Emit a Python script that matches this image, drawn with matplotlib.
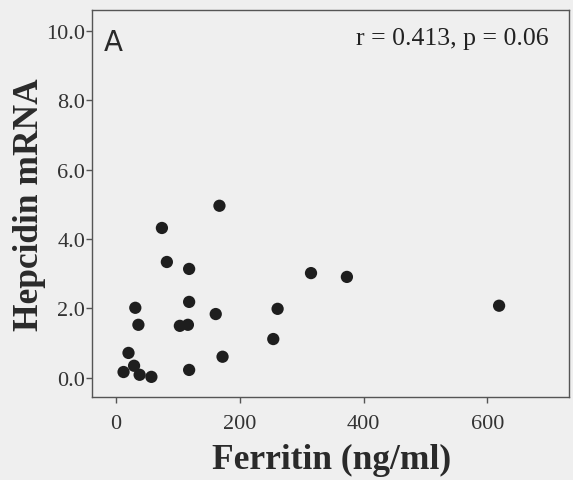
import matplotlib.pyplot as plt

# ferritina (ng/ml) x mRNA de hepcidina
ferritina = [74, 167, 82, 118, 31, 118, 161, 261, 36, 103, 116, 254,
             20, 172, 12, 29, 38, 57, 118, 315, 373, 619]
hepcidina = [4.32, 4.96, 3.34, 3.14, 2.02, 2.19, 1.84, 1.99, 1.53, 1.50, 1.53, 1.12,
             0.72, 0.61, 0.17, 0.35, 0.09, 0.03, 0.23, 3.02, 2.91, 2.08]

x_ticks = [0, 200, 400, 600]
y_ticks = [0.0, 2.0, 4.0, 6.0, 8.0, 10.0]

fundo = '#efefef'
serif = ['Liberation Serif', 'DejaVu Serif']

fig = plt.figure(figsize=(5.73, 4.81), dpi=100, facecolor=fundo)
ax = fig.add_axes([92 / 573, 1 - 398 / 481, (569 - 92) / 573, (398 - 11) / 481])
ax.set_facecolor(fundo)

ax.scatter(ferritina, hepcidina, s=78, color='#1e1e1e', edgecolors='none', zorder=3)

ax.set_xlim(-39, 732)
ax.set_ylim(-0.55, 10.6)
ax.set_xticks(x_ticks)
ax.set_xticklabels([str(v) for v in x_ticks], family=serif, fontsize=16, color='#333333')
ax.set_yticks(y_ticks)
ax.set_yticklabels([f'{v:.1f}' for v in y_ticks], family=serif, fontsize=16, color='#333333')
ax.tick_params(direction='out', length=4, width=1, color='#555555')
ax.tick_params(axis='x', pad=8)
ax.tick_params(axis='y', pad=1)

for s in ax.spines.values():
    s.set_color('#555555')
    s.set_linewidth(1.0)

# rotulos dos eixos
fig.text(332 / 573, 1 - 460 / 481, 'Ferritin (ng/ml)', ha='center', va='center',
         family=serif, fontweight='bold', fontsize=25.5, color='#2a2a2a')
fig.text(30 / 573, 1 - 205 / 481, 'Hepcidin mRNA', ha='center', va='center', rotation=90,
         family=serif, fontweight='bold', fontsize=25.5, color='#2a2a2a')

ax.text(0.025, 0.897, 'A', transform=ax.transAxes, ha='left', va='baseline',
        family=['DejaVu Sans'], fontsize=20, color='#2a2a2a')
ax.text(0.958, 0.912, 'r = 0.413, p = 0.06', transform=ax.transAxes, ha='right', va='baseline',
        family=serif, fontsize=18.5, color='#222222')

fig.savefig('out.png', dpi=100, facecolor=fundo)
